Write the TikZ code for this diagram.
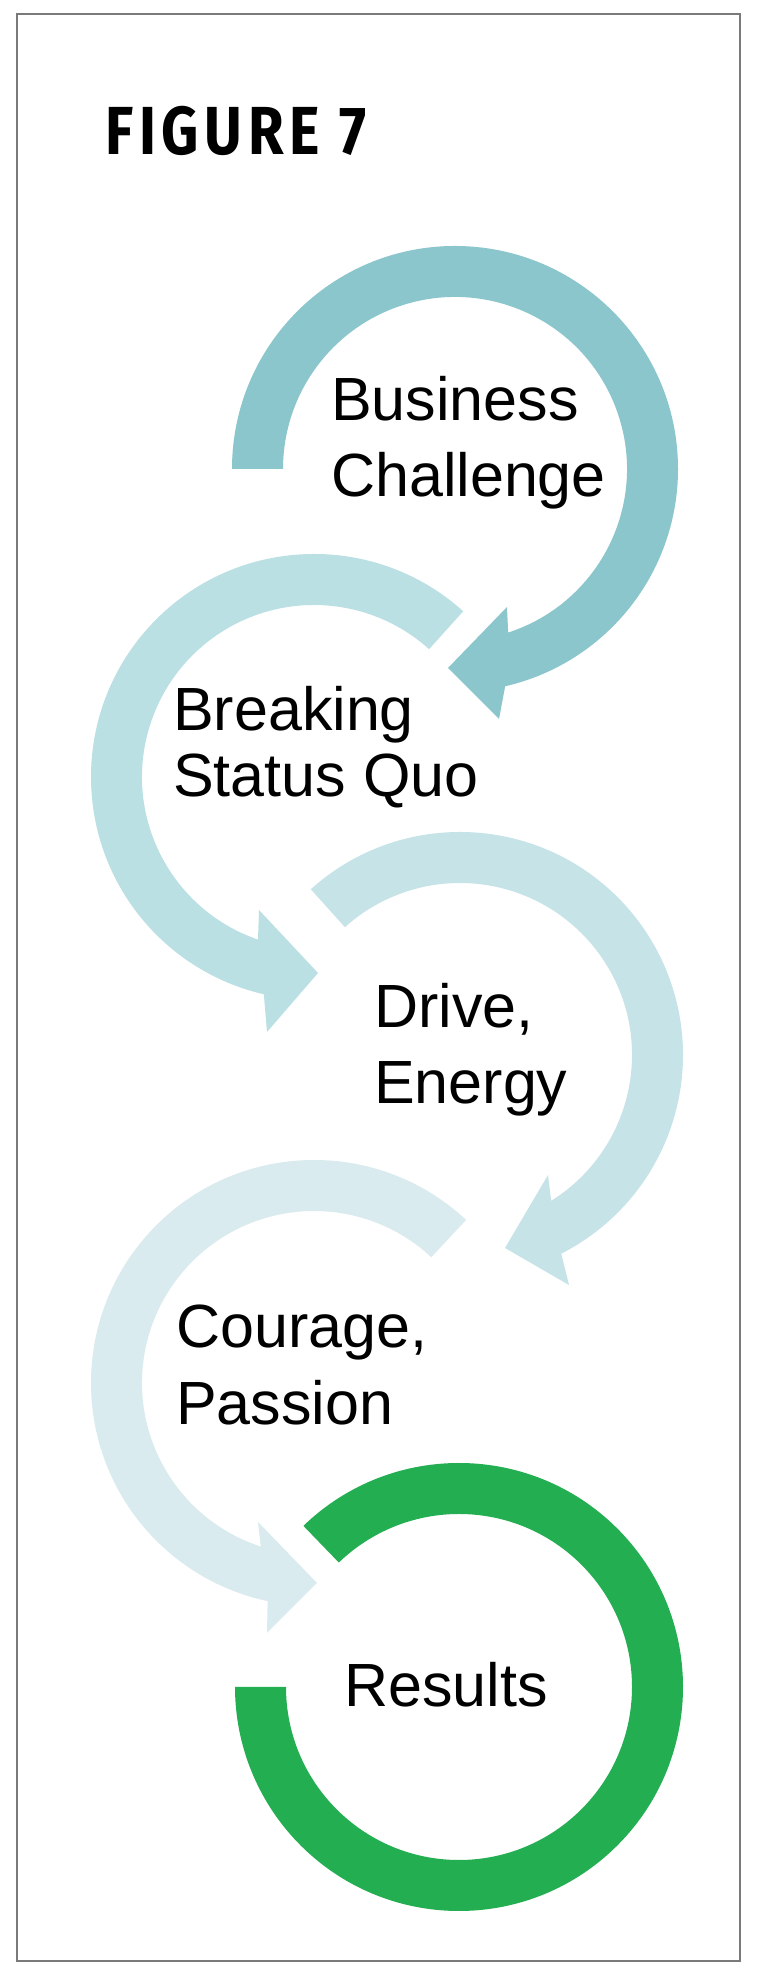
\documentclass[tikz,border=0pt]{standalone}
\usepackage{fontspec}
\usepackage{graphicx}
\setmainfont{Liberation Sans}
\newfontfamily\titlefont[LetterSpace=10]{Fira Sans}
\definecolor{arcA}{HTML}{8AC6CC}
\definecolor{arcB}{HTML}{BBE0E3}
\definecolor{arcC}{HTML}{C6E3E8}
\definecolor{arcD}{HTML}{DAEBEF}
\definecolor{arcE}{HTML}{23AE52}
\definecolor{bordergray}{HTML}{7A7A7A}
\begin{document}
\begin{tikzpicture}[x=1pt,y=1pt,
  lbl/.style={anchor=base west, inner sep=0pt, align=left, text=black,
              font=\fontsize{61}{76}\selectfont}]
\useasboundingbox (0,0) rectangle (767,1983);
\fill[white] (0,0) rectangle (767,1983);
\draw[bordergray, line width=2pt] (17,22) rectangle (740,1969);

% arc 1
\begin{scope}[shift={(455,1514)}]
\fill[arcA] (180:223pt) arc[start angle=180, end angle=-77, radius=223pt]
  -- (44pt,-250pt) -- (-7pt,-199pt) -- (52pt,-138pt) -- (-72:172pt)
  arc[start angle=-72, end angle=180, radius=172pt] -- cycle;
\end{scope}
% arc 2
\begin{scope}[shift={(314,1206)}]
\fill[arcB] (48:223pt) arc[start angle=48, end angle=257, radius=223pt]
  -- (-47pt,-255pt) -- (4pt,-196pt) -- (-55pt,-133pt) -- (251:172pt)
  arc[start angle=251, end angle=48, radius=172pt] -- cycle;
\end{scope}
% arc 3
\begin{scope}[shift={(460,928)}]
\fill[arcC] (132:223pt) arc[start angle=132, end angle=-63, radius=223pt]
  -- (109pt,-230pt) -- (45pt,-193pt) -- (88pt,-120pt) -- (-58:172pt)
  arc[start angle=-58, end angle=132, radius=172pt] -- cycle;
\end{scope}
% arc 4
\begin{scope}[shift={(314,600)}]
\fill[arcD] (47:223pt) arc[start angle=47, end angle=258, radius=223pt]
  -- (-47pt,-250pt) -- (3pt,-200pt) -- (-56pt,-139pt) -- (252:172pt)
  arc[start angle=252, end angle=47, radius=172pt] -- cycle;
\end{scope}
% arc 5 (green ring)
\begin{scope}[shift={(459,296)}]
\fill[arcE] (134:224pt) arc[start angle=134, end angle=-180, radius=224pt]
  -- (180:173pt) arc[start angle=-180, end angle=134, radius=173pt] -- cycle;
\end{scope}

\node[anchor=base west, inner sep=0pt] (title) at (105,1828)
  {\titlefont\bfseries\fontsize{68}{72}\selectfont\scalebox{0.85}[1]{FIGURE 7}};
\node[lbl] (t1) at (331,1486) {Business\\Challenge};
\node[lbl, font=\fontsize{61}{66}\selectfont] (t2) at (173,1186) {Breaking\\Status Quo};
\node[lbl] (t3) at (374,879) {Drive,\\Energy};
\node[lbl, font=\fontsize{61}{77}\selectfont] (t4) at (176,558) {Courage,\\Passion};
\node[lbl] (t5) at (344,276) {Results};
\end{tikzpicture}
\end{document}
